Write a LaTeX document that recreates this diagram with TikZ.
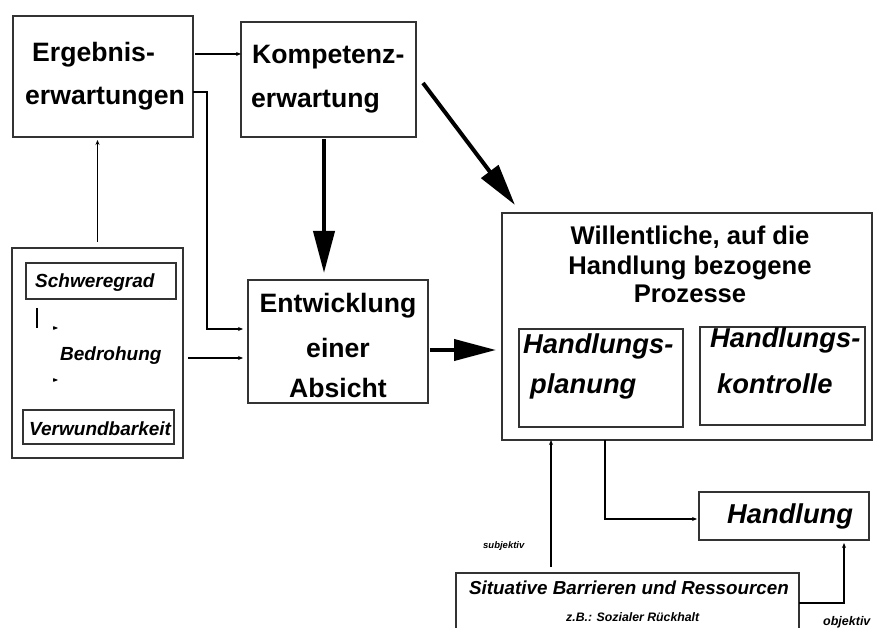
\documentclass[tikz,border=0pt]{standalone}
\usepackage{fontspec}
\setmainfont{Liberation Sans}
\usetikzlibrary{arrows.meta}
\begin{document}
\begin{tikzpicture}[x=1pt,y=-1pt,
  box/.style={draw=black!80, line width=1.2pt, inner sep=0pt, outer sep=0pt},
  thin/.style={draw=black, line width=1.1pt, -{Stealth[length=5pt,width=4pt]}},
  plain/.style={draw=black, line width=1.1pt},
  thick/.style={draw=black, line width=4pt, -{Triangle[length=42pt,width=21pt]}},
  lbl/.style={anchor=base west, inner sep=0pt},
  mid/.style={anchor=base, inner sep=0pt},
  head/.style={font=\fontsize{26.6}{30}\selectfont\bfseries},
  headit/.style={font=\fontsize{27.3}{30}\selectfont\bfseries\itshape},
  smallit/.style={font=\fontsize{19}{22}\selectfont\bfseries\itshape},
  tinyit/.style={font=\fontsize{12.3}{14}\selectfont\bfseries\itshape}]
\useasboundingbox (0,0) rectangle (873,628);
\clip (0,0) rectangle (873,628);

% boxes
\node[box, minimum width=180pt, minimum height=121pt] (erg)   at (103,76.5) {};
\node[box, minimum width=175pt, minimum height=115pt] (komp)  at (328.5,79.5) {};
\node[box, minimum width=180pt, minimum height=123pt] (entw)  at (338,341.5) {};
\node[box, minimum width=171pt, minimum height=210pt] (bed)   at (97.5,353) {};
\node[box, minimum width=150pt, minimum height=36pt]  (schw)  at (101,281) {};
\node[box, minimum width=151pt, minimum height=34pt]  (verw)  at (98.5,427) {};
\node[box, minimum width=370pt, minimum height=227pt] (will)  at (687,326.5) {};
\node[box, minimum width=164pt, minimum height=98pt]  (plan)  at (601,378) {};
\node[box, minimum width=165pt, minimum height=98pt]  (kontr) at (782.5,376) {};
\node[box, minimum width=170pt, minimum height=48pt]  (handl) at (784,516) {};
\node[box, minimum width=343pt, minimum height=80pt]  (sit)   at (627.5,613) {};

% texts
\node[lbl, head] (t1) at (32,62)  {Ergebnis-};
\node[lbl, head] (t2) at (25,105) {erwartungen};
\node[lbl, head] (t3) at (252,64) {Kompetenz-};
\node[lbl, head] (t4) at (251,108) {erwartung};
\node[mid, head] (t5) at (338,313) {Entwicklung};
\node[mid, head] (t6) at (338,357) {einer};
\node[mid, head] (t7) at (338,397) {Absicht};
\node[mid, font=\fontsize{25.6}{28}\selectfont\bfseries] (t8)  at (690,245) {Willentliche, auf die};
\node[mid, font=\fontsize{25.6}{28}\selectfont\bfseries] (t9)  at (690,275) {Handlung bezogene};
\node[mid, font=\fontsize{25.6}{28}\selectfont\bfseries] (t10) at (690,303) {Prozesse};
\node[lbl, headit] (t11) at (523,353) {Handlungs-};
\node[lbl, headit] (t12) at (530,393) {planung};
\node[lbl, headit] (t13) at (710,348) {Handlungs-};
\node[lbl, headit] (t14) at (717,393) {kontrolle};
\node[lbl, headit] (t15) at (727,523) {Handlung};
\node[lbl, smallit] (t16) at (35,288) {Schweregrad};
\node[lbl, smallit] (t17) at (60,360) {Bedrohung};
\node[lbl, smallit] (t18) at (29,435) {Verwundbarkeit};
\node[lbl, font=\fontsize{18.8}{22}\selectfont\bfseries\itshape] (t19) at (469,594) {Situative Barrieren und Ressourcen};
\node[lbl, tinyit] (t20) at (566,621) {z.B.: Sozialer Rückhalt};
\node[lbl, font=\fontsize{9.5}{11}\selectfont\bfseries\itshape] (t21) at (483,548) {subjektiv};
\node[lbl, font=\fontsize{12.5}{14}\selectfont\bfseries\itshape] (t22) at (823,625) {objektiv};

% helper positions for connector runs
\coordinate (ergbend) at (207,329);
\coordinate (bedy) at (0,358);
\coordinate (kx) at (324,0);
\coordinate (ey) at (0,350);
\coordinate (sx) at (551,0);
\coordinate (px) at (605,0);
\coordinate (hy) at (0,519);
\coordinate (ox) at (844,0);
\coordinate (oy) at (0,603);

% thin connectors
\draw[thin, shorten <=2pt] ([yshift=22.5pt]erg.east) -- ([yshift=25.5pt]komp.west);
\draw[thin, shorten >=5pt] ([yshift=-15.5pt]erg.east) -| (ergbend) -- (entw.west |- ergbend);
\draw[thin, line width=1.8pt, shorten <=6pt, shorten >=3pt] (bed.north) -- (erg.south -| bed.north);
\draw[thin, shorten <=5pt, shorten >=5pt] (bed.east |- bedy) -- (entw.west |- bedy);
\draw[thin, line width=1.4pt, shorten <=6pt] (sit.north -| sx) -- (will.south -| sx);
\draw[thin, shorten >=2pt] (will.south -| px) |- (handl.west |- hy);
\draw[thin, shorten >=3pt] (sit.east |- oy) -| (handl.south -| ox);

% thick connectors
\draw[thick, shorten <=2pt, shorten >=7pt] (komp.south -| kx) -- (entw.north -| kx);
\draw[thick] ([xshift=7pt,yshift=-3.5pt]komp.east) -- ([xshift=13pt,yshift=8pt]will.north west);
\draw[thick, shorten <=2pt, shorten >=6pt] (entw.east |- ey) -- (will.west |- ey);

% small marks between the two factor boxes
\draw[plain] (37,308) -- (37,328);
\draw[thin] (53,328) -- (58,328);
\draw[thin] (53,380) -- (58,380);
\end{tikzpicture}
\end{document}
